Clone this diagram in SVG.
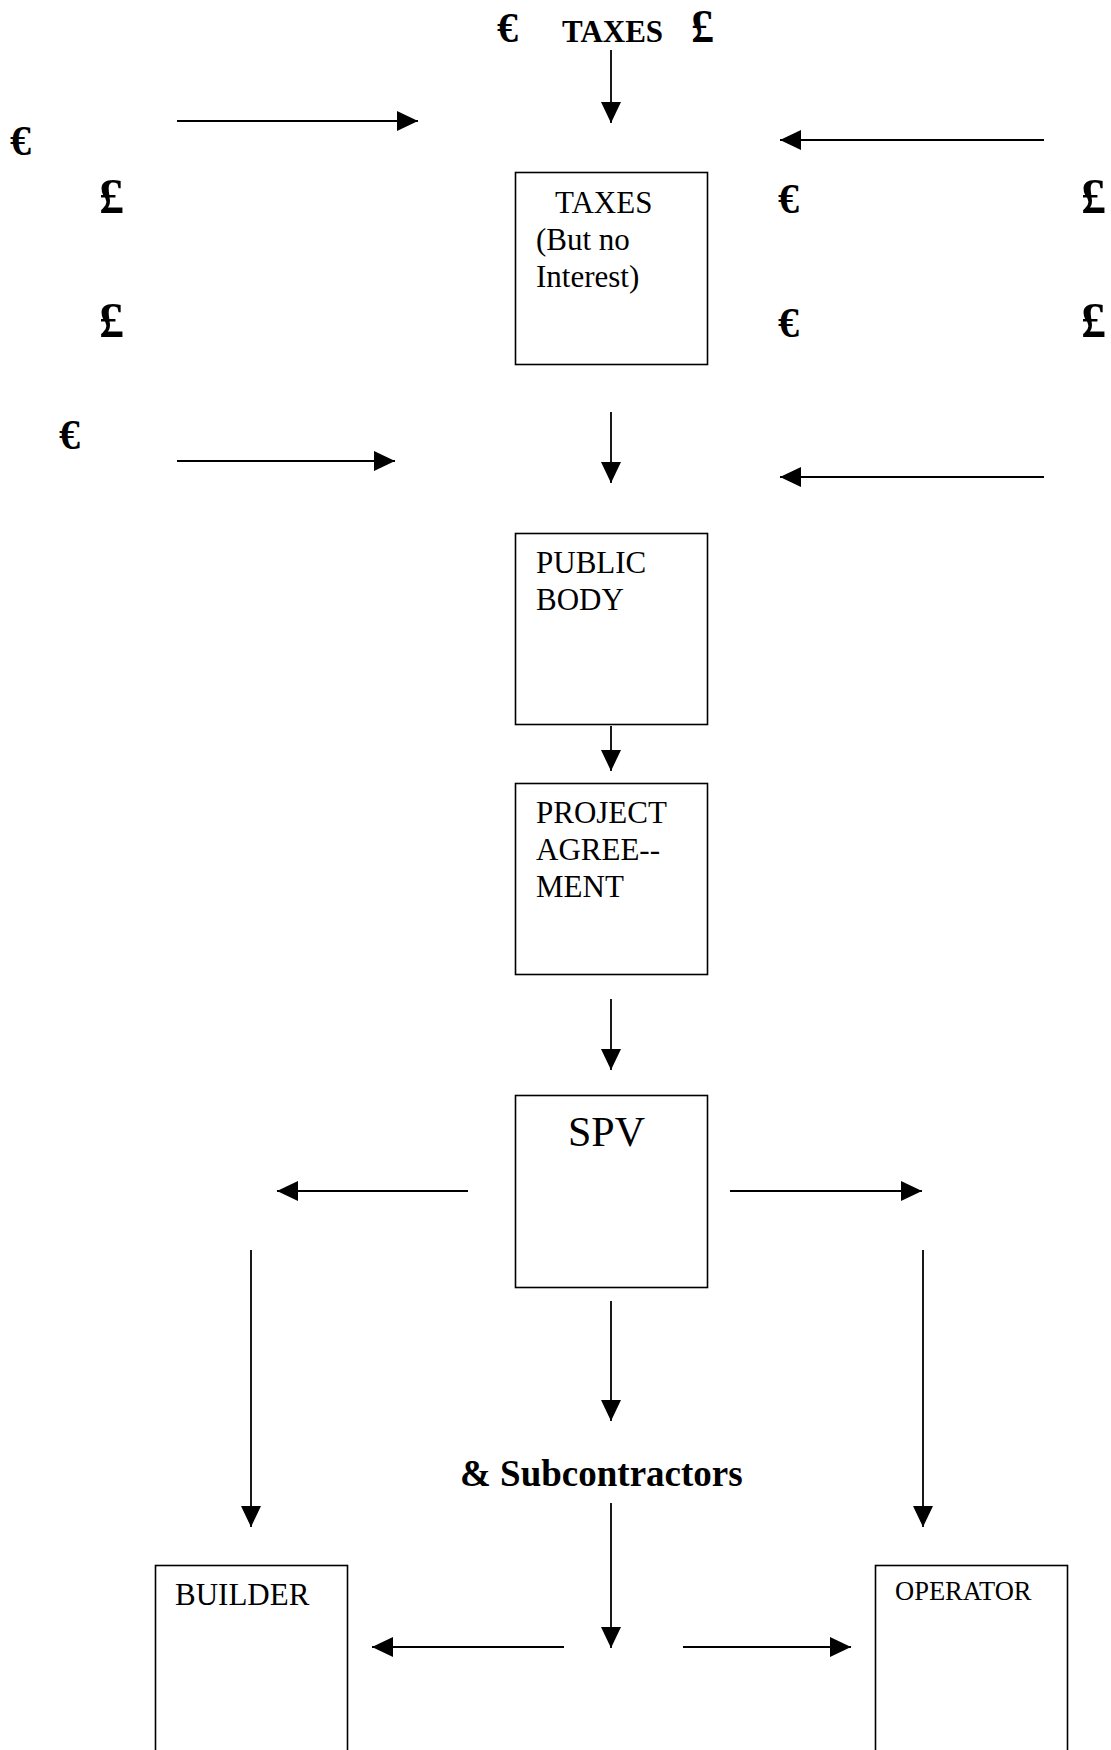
<svg xmlns="http://www.w3.org/2000/svg" width="1111" height="1750" viewBox="0 0 1111 1750">
<defs>
<marker id="arrow" markerUnits="userSpaceOnUse" markerWidth="21" markerHeight="20" viewBox="0 0 21 20" refX="21" refY="10" orient="auto">
<path d="M0,0 L21,10 L0,20 z" fill="#000"/>
</marker>
<style>
.box{fill:#fff;stroke:#000;stroke-width:1.6}
.t{font-family:"Liberation Serif","Times New Roman",serif;font-size:31px;fill:#000}
.sym{font-family:"Liberation Serif","Times New Roman",serif;font-weight:bold;fill:#000}
.e{font-size:42px}
.p{font-size:50px}
.c line{stroke:#000;stroke-width:1.8;marker-end:url(#arrow)}
</style>
</defs>
<rect width="1111" height="1750" fill="#fff"/>

<g id="labels">
<text class="sym e" x="497" y="42">€</text>
<text class="sym" x="562" y="42" style="font-size:31px">TAXES</text>
<text class="sym" x="691" y="42" style="font-size:46px">£</text>
<text class="sym e" x="10" y="155">€</text>
<text class="sym p" x="99" y="213">£</text>
<text class="sym p" x="99" y="337">£</text>
<text class="sym e" x="59" y="449">€</text>
<text class="sym e" x="778" y="213">€</text>
<text class="sym e" x="778" y="337">€</text>
<text class="sym p" x="1081" y="213">£</text>
<text class="sym p" x="1081" y="337">£</text>
<text class="sym" x="460" y="1486" style="font-size:37px">&amp; Subcontractors</text>
</g>

<g id="taxes">
<rect class="box" x="515.5" y="172.5" width="192" height="192"/>
<text class="t" x="555" y="213">TAXES</text>
<text class="t" x="536" y="250">(But no</text>
<text class="t" x="536" y="287">Interest)</text>
</g>

<g id="public-body">
<rect class="box" x="515.5" y="533.5" width="192" height="191"/>
<text class="t" x="536" y="573">PUBLIC</text>
<text class="t" x="536" y="610">BODY</text>
</g>

<g id="project-agreement">
<rect class="box" x="515.5" y="783.5" width="192" height="191"/>
<text class="t" x="536" y="823">PROJECT</text>
<text class="t" x="536" y="860">AGREE--</text>
<text class="t" x="536" y="897">MENT</text>
</g>

<g id="spv">
<rect class="box" x="515.5" y="1095.5" width="192" height="192"/>
<text class="t" x="568" y="1146" style="font-size:42px">SPV</text>
</g>

<g id="builder">
<rect class="box" x="155.5" y="1565.5" width="192" height="220"/>
<text class="t" x="175" y="1605">BUILDER</text>
</g>

<g id="operator">
<rect class="box" x="875.5" y="1565.5" width="192" height="220"/>
<text class="t" x="895" y="1600" style="font-size:26.5px">OPERATOR</text>
</g>

<g id="connectors" class="c">
<line x1="611" y1="50" x2="611" y2="123"/>
<line x1="177" y1="121" x2="418" y2="121"/>
<line x1="1044" y1="140" x2="780" y2="140"/>
<line x1="611" y1="412" x2="611" y2="483"/>
<line x1="177" y1="461" x2="395" y2="461"/>
<line x1="1044" y1="477" x2="780" y2="477"/>
<line x1="611" y1="726" x2="611" y2="771"/>
<line x1="611" y1="999" x2="611" y2="1070"/>
<line x1="468" y1="1191" x2="277" y2="1191"/>
<line x1="730" y1="1191" x2="922" y2="1191"/>
<line x1="251" y1="1250" x2="251" y2="1527"/>
<line x1="923" y1="1250" x2="923" y2="1527"/>
<line x1="611" y1="1301" x2="611" y2="1421"/>
<line x1="611" y1="1503" x2="611" y2="1648"/>
<line x1="564" y1="1647" x2="372" y2="1647"/>
<line x1="683" y1="1647" x2="851" y2="1647"/>
</g>
</svg>
